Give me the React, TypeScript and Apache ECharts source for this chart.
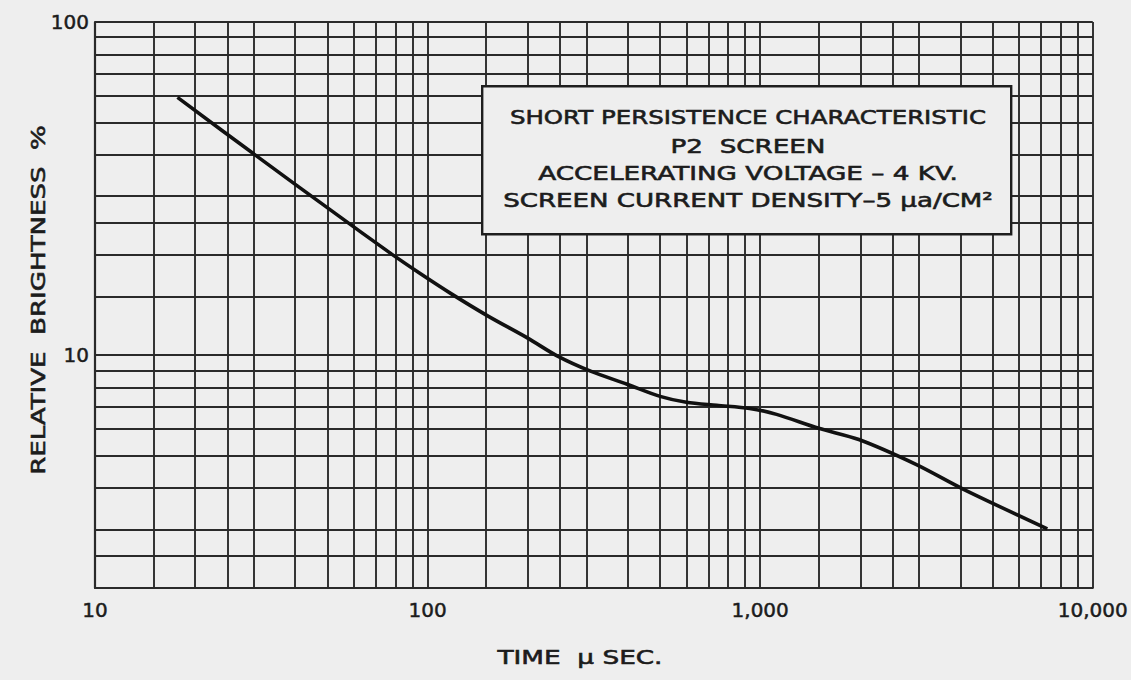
import React, { useEffect, useRef } from "react";
import * as echarts from "echarts";

// Curve (time in microseconds, relative brightness in %)
const timeUs = [17.7, 30.5, 51.5, 78, 94, 117.6, 152, 200, 246, 309, 398, 500, 600, 740, 930, 1120, 1500, 1980, 2940, 4060, 7300];
const brightnessPct = [59.4, 39.7, 27.1, 20.1, 17.7, 15.3, 13.1, 11.25, 9.93, 8.95, 8.18, 7.52, 7.22, 7.07, 6.92, 6.64, 6.03, 5.58, 4.7, 3.97, 3.01];

// Printed log-paper rulings
const xGridLines = [10, 15, 20, 25, 30, 40, 50, 60, 70, 80, 90, 100, 150, 200, 250, 300, 400, 500, 600, 700, 800, 900, 1000, 1500, 2000, 2500, 3000, 4000, 5000, 6000, 7000, 8000, 9000, 10000];
const yGridLines = [2, 2.5, 3, 4, 5, 6, 7, 8, 9, 10, 15, 20, 25, 30, 40, 50, 60, 70, 80, 90, 100];

// Tick labels
const xLabelValues = [10, 100, 1000, 10000];
const xLabelTexts = ["10", "100", "1,000", "10,000"];
const yLabelValues = [10, 100];
const yLabelTexts = ["10", "100"];

const boxLines = [
  "SHORT PERSISTENCE CHARACTERISTIC",
  "P2  SCREEN",
  "ACCELERATING VOLTAGE – 4 KV.",
  "SCREEN CURRENT DENSITY–5 μa/CM²",
];
const boxLineWidths = [476, 155, 420, 490];
const boxLineYs = [117, 146, 173, 200];

const xAxisName = "TIME  μ SEC.";
const yAxisName = "RELATIVE  BRIGHTNESS  %";

const FONT_FAMILY = '"DejaVu Sans", sans-serif';
const INK = "#1c1c1c";
const PAPER = "#eeeeee";
const GRID_INK = "#2a2a2a";

function fitScale(text: string, size: number, target: number): number {
  const c = document.createElement("canvas").getContext("2d");
  if (!c) return 1;
  c.font = `${size}px ${FONT_FAMILY}`;
  const w = c.measureText(text).width;
  return w > 0 ? target / w : 1;
}

function pickLabel(values: number[], texts: string[], v: number): string {
  for (let i = 0; i < values.length; i++) {
    if (Math.abs(values[i] - v) < 1e-6 * values[i]) return texts[i];
  }
  return "";
}

function textStyle(text: string, size: number) {
  return {
    text,
    fill: INK,
    stroke: INK,
    lineWidth: 0.6,
    fontSize: size,
    fontFamily: FONT_FAMILY,
    align: "center",
    verticalAlign: "middle",
    textAlign: "center",
    textVerticalAlign: "middle",
  };
}

export default function App() {
  const ref = useRef<HTMLDivElement>(null);

  useEffect(() => {
    if (!ref.current) return;
    const chart = echarts.init(ref.current, null, { renderer: "svg" });

    const boxFont = 20;
    const boxTexts = boxLines.map((t, i) => ({
      type: "text",
      x: 748,
      y: boxLineYs[i],
      scaleX: fitScale(t, boxFont, boxLineWidths[i]),
      z: 102,
      style: textStyle(t, boxFont),
    }));

    const labelCommon = {
      color: INK,
      fontSize: 20,
      fontFamily: FONT_FAMILY,
      textBorderColor: INK,
      textBorderWidth: 0.5,
    };

    const option: any = {
      animation: false,
      backgroundColor: PAPER,
      grid: { left: 95, right: 33, top: 22, bottom: 92 },
      xAxis: {
        type: "log",
        logBase: 10,
        min: 10,
        max: 10000,
        splitLine: { show: false },
        axisTick: { show: false },
        axisLine: { show: true, lineStyle: { color: GRID_INK, width: 2.2 } },
        axisLabel: {
          ...labelCommon,
          margin: 12,
          formatter: (v: number) => pickLabel(xLabelValues, xLabelTexts, v),
        },
      },
      yAxis: {
        type: "log",
        logBase: 10,
        min: 2,
        max: 100,
        splitLine: { show: false },
        axisTick: { show: false },
        axisLine: { show: true, lineStyle: { color: GRID_INK, width: 2.2 } },
        axisLabel: {
          ...labelCommon,
          margin: 6,
          formatter: (v: number) => pickLabel(yLabelValues, yLabelTexts, v),
        },
      },
      series: [
        {
          type: "line",
          data: timeUs.map((t, i) => [t, brightnessPct[i]]),
          smooth: 0.3,
          symbol: "none",
          lineStyle: { color: "#111111", width: 3.6 },
          z: 5,
          markLine: {
            silent: true,
            symbol: ["none", "none"],
            label: { show: false },
            animation: false,
            lineStyle: { color: GRID_INK, width: 1.9, type: "solid" },
            emphasis: { disabled: true },
            data: [
              ...xGridLines.map((v) => ({ xAxis: v })),
              ...yGridLines.map((v) => ({ yAxis: v })),
            ],
          },
        },
      ],
      graphic: [
        {
          type: "group",
          left: 481,
          top: 85,
          z: 100,
          children: [
            {
              type: "rect",
              shape: { x: 0, y: 0, width: 529, height: 148 },
              z: 100,
              style: { fill: PAPER, stroke: "#1e1e1e", lineWidth: 2.4 },
            },
          ],
        },
        ...boxTexts,
        {
          type: "text",
          x: 38,
          y: 300,
          rotation: Math.PI / 2,
          scaleX: fitScale(yAxisName, 20, 350),
          z: 50,
          style: textStyle(yAxisName, 20),
        },
        {
          type: "text",
          x: 580,
          y: 657,
          scaleX: fitScale(xAxisName, 20, 165),
          z: 50,
          style: textStyle(xAxisName, 20),
        },
      ],
    };

    chart.setOption(option);
    return () => chart.dispose();
  }, []);

  return (
    <div
      ref={ref}
      style={{ position: "fixed", left: 0, top: 0, width: 1131, height: 680, background: PAPER }}
    />
  );
}
